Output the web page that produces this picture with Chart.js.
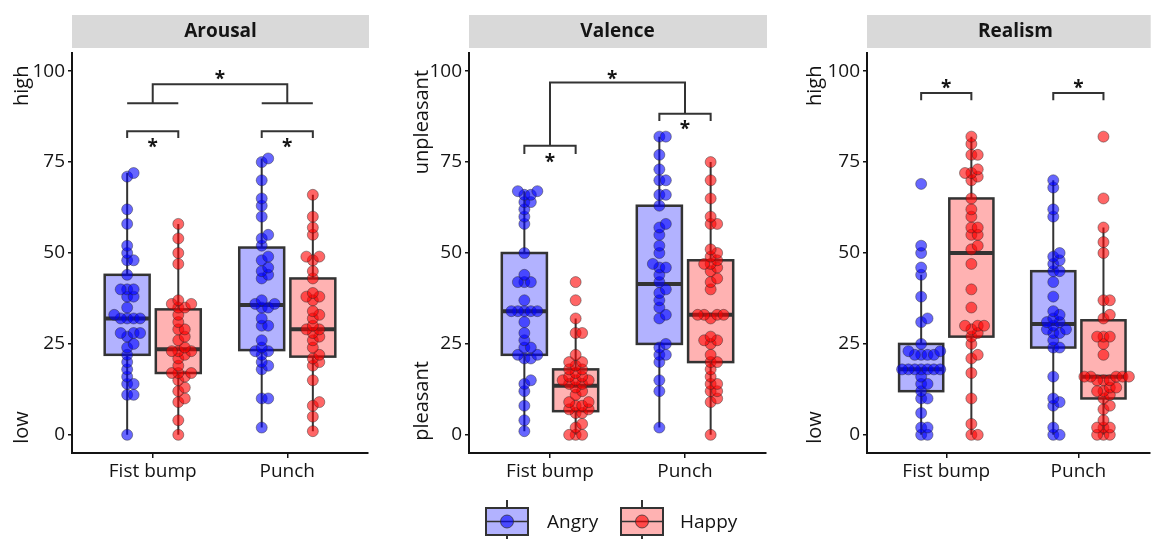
<!DOCTYPE html>
<html>
<head>
<meta charset="utf-8">
<script src="https://cdn.jsdelivr.net/npm/chart.js@4.4.1/dist/chart.umd.min.js"></script>
<style>
body{margin:0;background:#fff;width:1156px;height:539px;overflow:hidden;position:relative;}
.panel{position:absolute;top:0;height:539px;}
</style>
</head>
<body>
<div class="panel" style="left:0;width:390px"><canvas id="arousal" width="390" height="539"></canvas></div>
<div class="panel" style="left:390px;width:390px"><canvas id="valence" width="390" height="539"></canvas></div>
<div class="panel" style="left:780px;width:376px"><canvas id="realism" width="376" height="539"></canvas></div>
<script>
const categories = ['Fist bump', 'Punch'];
const emotions = ['Angry', 'Happy'];
const yTicks = [0, 25, 50, 75, 100];

// Arousal ratings
const arousalAngryFist = [72, 71, 62, 58, 52, 50, 48, 48, 44, 40, 40, 40, 38, 38, 35, 33, 32, 32, 32, 32, 28, 28, 28, 27, 25, 24, 22, 20, 18, 16, 14, 14, 11, 11, 0];
const arousalHappyFist = [58, 54, 50, 47, 37, 36, 36, 35, 35, 33, 31, 29, 29, 27, 26, 24, 23, 23, 23, 22, 21, 19, 17, 17, 17, 16, 15, 13, 12, 10, 9, 4, 0];
const arousalAngryPunch = [76, 75, 70, 65, 63, 60, 55, 54, 52, 49, 48, 46, 45, 44, 43, 37, 36, 36, 35, 35, 32, 30, 30, 26, 24, 23, 23, 22, 20, 19, 18, 10, 10, 2];
const arousalHappyPunch = [66, 60, 57, 55, 49, 49, 48, 45, 43, 39, 38, 38, 37, 34, 33, 32, 30, 29, 29, 28, 27, 26, 24, 22, 21, 20, 19, 15, 9, 8, 5, 1];
// [lower whisker, q1, median, q3, upper whisker]
const arousalBoxes = [[0, 22, 32, 44, 72], [0, 17, 23.5, 34.5, 58], [2, 23.3, 35.7, 51.5, 76], [1, 21.5, 29, 43, 66]];

// Valence ratings
const valenceAngryFist = [67, 67, 66, 66, 64, 64, 62, 60, 58, 50, 44, 42, 42, 42, 37, 34, 34, 34, 34, 34, 31, 28, 26, 24, 24, 22, 22, 21, 21, 15, 14, 12, 8, 4, 1];
const valenceHappyFist = [42, 37, 32, 28, 28, 22, 20, 20, 19, 18, 18, 17, 16, 16, 15, 15, 15, 14, 14, 13, 12, 11, 9, 9, 8, 8, 7, 7, 6, 6, 3, 2, 0, 0, 0];
const valenceAngryPunch = [82, 82, 77, 73, 70, 70, 66, 66, 63, 58, 57, 55, 52, 50, 47, 46, 46, 44, 42, 40, 39, 37, 35, 33, 32, 25, 24, 22, 22, 20, 15, 12, 2];
const valenceHappyPunch = [75, 70, 65, 60, 58, 58, 51, 50, 49, 48, 47, 47, 46, 45, 43, 42, 40, 33, 33, 33, 33, 32, 27, 26, 26, 25, 22, 20, 20, 18, 16, 14, 14, 12, 12, 10, 9, 0];
const valenceBoxes = [[1, 22, 34, 50, 67], [0, 6.5, 13.5, 18, 32], [2, 25, 41.5, 63, 82], [0, 20, 33, 48, 75]];

// Realism ratings
const realismAngryFist = [69, 52, 50, 46, 44, 38, 32, 31, 25, 23, 23, 22, 22, 22, 22, 18, 18, 18, 18, 18, 18, 18, 16, 14, 14, 12, 10, 10, 6, 2, 2, 0, 0];
const realismHappyFist = [82, 80, 77, 77, 73, 72, 72, 71, 70, 65, 62, 60, 57, 57, 55, 55, 52, 51, 47, 40, 35, 30, 30, 30, 29, 28, 27, 25, 22, 21, 17, 10, 3, 0, 0];
const realismAngryPunch = [70, 68, 62, 60, 50, 49, 48, 47, 45, 45, 42, 38, 34, 33, 32, 31, 31, 30, 29, 29, 28, 28, 26, 24, 24, 16, 10, 9, 8, 2, 0, 0];
const realismHappyPunch = [82, 65, 57, 53, 50, 37, 37, 33, 32, 27, 27, 27, 25, 22, 16, 16, 16, 16, 16, 15, 15, 15, 13, 13, 12, 12, 11, 10, 8, 7, 4, 2, 2, 2, 0, 0, 0];
const realismBoxes = [[0, 12, 18, 25, 44], [0, 27, 50, 65, 82], [0, 24, 30.5, 45, 70], [0, 10, 16, 31.5, 57]];

// significance brackets (x in category units, y in rating units) and star positions
const arousalBrackets = [
    [[0.81, 81.6], [0.81, 83.5], [1.19, 83.5], [1.19, 81.6]],
    [[1.81, 81.6], [1.81, 83.5], [2.19, 83.5], [2.19, 81.6]],
    [[0.81, 91.2], [1.19, 91.2]],
    [[1.81, 91.2], [2.19, 91.2]],
    [[1, 91.2], [1, 96.4], [2, 96.4], [2, 91.2]]
];
const arousalStars = [[1, 80.6], [2, 80.6], [1.5, 99.2]];
const valenceBrackets = [
    [[0.81, 77.2], [0.81, 79.5], [1.19, 79.5], [1.19, 77.2]],
    [[1.81, 86.3], [1.81, 88.3], [2.19, 88.3], [2.19, 86.3]],
    [[1, 79.5], [1, 96.9], [2, 96.9], [2, 88.3]]
];
const valenceStars = [[1, 76.4], [2, 85.4], [1.46, 99.2]];
const realismBrackets = [
    [[0.81, 92], [0.81, 94], [1.19, 94], [1.19, 92]],
    [[1.81, 92], [1.81, 94], [2.19, 94], [2.19, 92]]
];
const realismStars = [[1, 96.8], [2, 96.8]];

const angryPoint = 'rgba(0,0,255,0.6)';
const happyPoint = 'rgba(255,0,0,0.6)';
const angryBox = 'rgba(0,0,255,0.3)';
const happyBox = 'rgba(255,0,0,0.3)';
const ink = '#141414';
const font = "'Open Sans', sans-serif";

const dodge = 0.19;
const boxHalf = 0.167;
const centers = [1 - dodge, 1 + dodge, 2 - dodge, 2 + dodge];

// simple beeswarm so points with close values spread sideways
const PX_X = 135, PX_Y = 3.64;
function swarm(vals, cx){
    let placed = [], out = [];
    [...vals].sort((a, b) => a - b).forEach(v => {
        let yp = v * PX_Y;
        for(let k = 0; k < 60; k++){
            let dx = k === 0 ? 0 : (k % 2 ? 1 : -1) * Math.ceil(k / 2) * 3.25;
            if(placed.every(p => Math.hypot(p[0] - dx, p[1] - yp) >= 6.5)){
                placed.push([dx, yp]);
                out.push({x: cx + dx / PX_X, y: v});
                break;
            }
        }
    });
    return out;
}

function makeChart(id, title, series, boxes, brackets, stars, yTitles, axisW, padRight, xMax, legend){
    const ctxEl = document.getElementById(id).getContext('2d');

    const panelPlugin = {
        id: 'panel_' + id,
        beforeDatasetsDraw(chart){
            const {ctx, scales: {x, y}} = chart;
            ctx.save();
            boxes.forEach((b, i) => {
                const cx = centers[i];
                const l = x.getPixelForValue(cx - boxHalf), r = x.getPixelForValue(cx + boxHalf), m = x.getPixelForValue(cx);
                ctx.strokeStyle = '#333';
                ctx.lineWidth = 2;
                ctx.beginPath();
                ctx.moveTo(m, y.getPixelForValue(b[0])); ctx.lineTo(m, y.getPixelForValue(b[1]));
                ctx.moveTo(m, y.getPixelForValue(b[3])); ctx.lineTo(m, y.getPixelForValue(b[4]));
                ctx.stroke();
                const top = y.getPixelForValue(b[3]), bot = y.getPixelForValue(b[1]);
                ctx.fillStyle = '#fff';
                ctx.fillRect(l, top, r - l, bot - top);
                ctx.fillStyle = i % 2 === 0 ? angryBox : happyBox;
                ctx.fillRect(l, top, r - l, bot - top);
                ctx.lineWidth = 2.5;
                ctx.strokeRect(l, top, r - l, bot - top);
                ctx.lineWidth = 4;
                ctx.beginPath();
                ctx.moveTo(l, y.getPixelForValue(b[2])); ctx.lineTo(r, y.getPixelForValue(b[2]));
                ctx.stroke();
            });
            ctx.restore();
        },
        afterDatasetsDraw(chart){
            const {ctx, scales: {x, y}} = chart;
            ctx.save();
            ctx.strokeStyle = '#333';
            ctx.lineWidth = 2;
            brackets.forEach(path => {
                ctx.beginPath();
                path.forEach((p, j) => {
                    const px = x.getPixelForValue(p[0]), py = y.getPixelForValue(p[1]);
                    j ? ctx.lineTo(px, py) : ctx.moveTo(px, py);
                });
                ctx.stroke();
            });
            ctx.fillStyle = ink;
            ctx.font = 'bold 19px ' + font;
            ctx.textAlign = 'center';
            ctx.textBaseline = 'alphabetic';
            stars.forEach(s => {
                ctx.fillText('*', x.getPixelForValue(s[0]), y.getPixelForValue(s[1]) + 11);
            });
            ctx.restore();
        },
        afterDraw(chart){
            const {ctx, chartArea: a, scales: {y}} = chart;
            ctx.save();
            // strip
            ctx.fillStyle = '#d9d9d9';
            ctx.fillRect(a.left, 15, a.right - a.left + 1, 33);
            ctx.fillStyle = ink;
            ctx.font = 'bold 19px ' + font;
            ctx.textAlign = 'center';
            ctx.textBaseline = 'middle';
            ctx.fillText(title, (a.left + (a.left + 297)) / 2, 31.5);
            // y titles
            ctx.font = '20px ' + font;
            yTitles.forEach(t => {
                ctx.save();
                ctx.translate(t[2], y.getPixelForValue(t[1]));
                ctx.rotate(-Math.PI / 2);
                ctx.fillText(t[0], 0, 0);
                ctx.restore();
            });
            if(legend){
                const keys = [[96, angryBox, angryPoint, emotions[0], 157], [231, happyBox, happyPoint, emotions[1], 290]];
                keys.forEach(k => {
                    const l = k[0], w = 42, t = 508, h = 27, mid = t + h / 2;
                    ctx.strokeStyle = '#333';
                    ctx.lineWidth = 2;
                    ctx.beginPath();
                    ctx.moveTo(l + w / 2, 500); ctx.lineTo(l + w / 2, t);
                    ctx.moveTo(l + w / 2, t + h); ctx.lineTo(l + w / 2, 539);
                    ctx.stroke();
                    ctx.fillStyle = k[1];
                    ctx.fillRect(l, t, w, h);
                    ctx.strokeRect(l, t, w, h);
                    ctx.lineWidth = 1.5;
                    ctx.beginPath();
                    ctx.moveTo(l, mid); ctx.lineTo(l + w, mid);
                    ctx.stroke();
                    ctx.beginPath();
                    ctx.arc(l + w / 2, mid, 6.5, 0, Math.PI * 2);
                    ctx.fillStyle = k[2];
                    ctx.fill();
                    ctx.strokeStyle = 'rgba(40,40,40,0.7)';
                    ctx.lineWidth = 1;
                    ctx.stroke();
                    ctx.fillStyle = ink;
                    ctx.font = '19px ' + font;
                    ctx.textAlign = 'left';
                    ctx.fillText(k[3], k[4], mid + 1);
                });
            }
            ctx.restore();
        }
    };

    return new Chart(ctxEl, {
        type: 'scatter',
        data: {
            datasets: series.map((vals, i) => ({
                label: emotions[i % 2] + ' ' + categories[Math.floor(i / 2)],
                data: swarm(vals, centers[i]),
                pointRadius: 5.5,
                pointBackgroundColor: i % 2 === 0 ? angryPoint : happyPoint,
                pointBorderColor: 'rgba(40,40,40,0.55)',
                pointBorderWidth: 0.8
            }))
        },
        options: {
            responsive: false,
            animation: false,
            layout: {padding: {top: 53, right: padRight, bottom: 0, left: 0}},
            plugins: {legend: {display: false}, tooltip: {enabled: false}},
            scales: {
                x: {
                    type: 'linear',
                    min: 0.4,
                    max: xMax,
                    afterBuildTicks: s => { s.ticks = [{value: 1}, {value: 2}]; },
                    afterFit: s => { s.height = 86; },
                    ticks: {
                        callback: v => categories[v - 1],
                        color: ink,
                        font: {family: font, size: 19},
                        padding: 2
                    },
                    grid: {drawOnChartArea: false, drawTicks: true, tickLength: 5, color: ink, lineWidth: 1.5},
                    border: {display: true, color: ink, width: 2}
                },
                y: {
                    min: -5,
                    max: 105,
                    afterBuildTicks: s => { s.ticks = yTicks.map(v => ({value: v})); },
                    afterFit: s => { s.width = axisW; },
                    ticks: {
                        color: ink,
                        font: {family: font, size: 19},
                        padding: 3
                    },
                    grid: {drawOnChartArea: false, drawTicks: true, tickLength: 4, color: ink, lineWidth: 1.5},
                    border: {display: true, color: ink, width: 2}
                }
            }
        },
        plugins: [panelPlugin]
    });
}

makeChart('arousal', 'Arousal',
    [arousalAngryFist, arousalHappyFist, arousalAngryPunch, arousalHappyPunch],
    arousalBoxes, arousalBrackets, arousalStars,
    [['high', 96, 22], ['low', 2, 22]], 72, 22, 2.6, false);

makeChart('valence', 'Valence',
    [valenceAngryFist, valenceHappyFist, valenceAngryPunch, valenceHappyPunch],
    valenceBoxes, valenceBrackets, valenceStars,
    [['unpleasant', 86, 32], ['pleasant', 9.3, 32]], 79, 14, 2.6, true);

makeChart('realism', 'Realism',
    [realismAngryFist, realismHappyFist, realismAngryPunch, realismHappyPunch],
    realismBoxes, realismBrackets, realismStars,
    [['high', 96, 35], ['low', 2, 35]], 87, 0, 2.54, false);
</script>
</body>
</html>
